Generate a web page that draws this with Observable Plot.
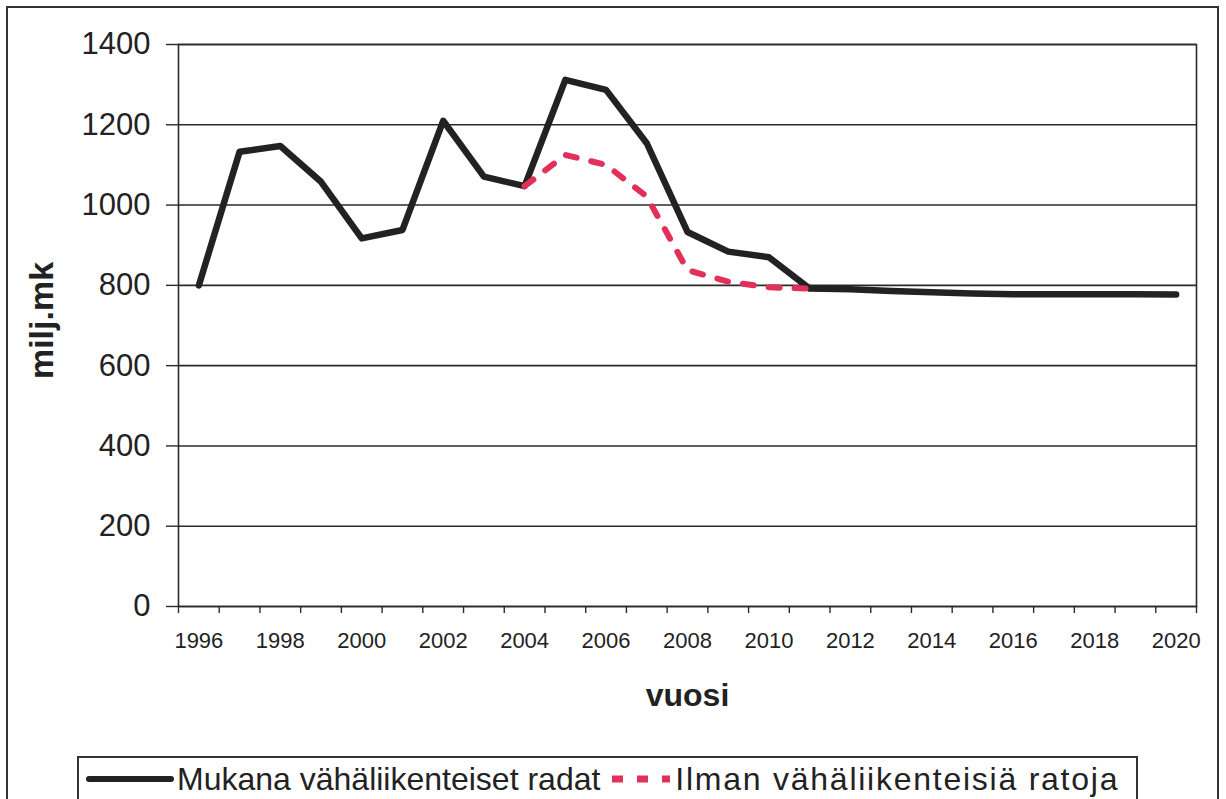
<!DOCTYPE html>
<html>
<head>
<meta charset="utf-8">
<script src="https://cdn.jsdelivr.net/npm/d3@7"></script>
<script src="https://cdn.jsdelivr.net/npm/@observablehq/plot@0.6"></script>
<style>
  html, body { margin: 0; padding: 0; background: #fff; }
  body { width: 1226px; height: 799px; overflow: hidden; position: relative; font-family: Arial, "Liberation Sans", sans-serif; color: #222; }
  #chart { position: absolute; left: 0; top: 0; }
  #frame { position: absolute; left: 6px; top: 6px; width: 1209px; height: 900px; border: 2px solid #333; pointer-events: none; }
  #legend { position: absolute; left: 77px; top: 756px; width: 1057px; height: 80px; border: 2px solid #333; background: #fff; }
  #legend .row { display: flex; align-items: center; height: 40px; margin-top: 1px; white-space: nowrap; font-size: 32px; }
  #legend .blk { width: 88px; height: 6px; background: #222; border-radius: 3px; margin-left: 7px; margin-right: 3px; }
  #legend .t1 { letter-spacing: 0px; }
  #legend .t2 { letter-spacing: 1.75px; }
  #legend svg { margin: 0 5px 0 12px; }
</style>
</head>
<body>
<div id="chart"></div>
<div id="legend"></div>
<div id="frame"></div>
<script>
// ---- data ----
const years = [1996, 1997, 1998, 1999, 2000, 2001, 2002, 2003, 2004, 2005, 2006, 2007, 2008,
               2009, 2010, 2011, 2012, 2013, 2014, 2015, 2016, 2017, 2018, 2019, 2020];
const mukana = [800, 1133, 1147, 1058, 917, 938, 1210, 1071, 1047, 1312, 1287, 1154, 933,
                884, 870, 792, 790, 786, 783, 780, 778, 778, 778, 778, 777];
const ilmanYears = [2004, 2005, 2006, 2007, 2008, 2009, 2010, 2011];
const ilman = [1047, 1125, 1100, 1021, 838, 809, 795, 792];
const yTicks = [0, 200, 400, 600, 800, 1000, 1200, 1400];
const xTickLabels = [1996, 1998, 2000, 2002, 2004, 2006, 2008, 2010, 2012, 2014, 2016, 2018, 2020];
const xTitle = "vuosi";
const yTitle = "milj.mk";
const seriesNames = ["Mukana vähäliikenteiset radat", "Ilman vähäliikenteisiä ratoja"];
const seriesColors = ["#222222", "#e3305a"];

// ---- derived tables ----
const dataA = years.map((y, i) => ({year: y, value: mukana[i]}));
const dataB = ilmanYears.map((y, i) => ({year: y, value: ilman[i]}));
const boundaries = years.map(y => y - 0.5).concat([years[years.length - 1] + 0.5]);

const chart = Plot.plot({
  width: 1226,
  height: 750,
  marginLeft: 178,
  marginRight: 30,
  marginTop: 44,
  marginBottom: 144,
  style: {fontFamily: "Arial, 'Liberation Sans', sans-serif", background: "transparent", color: "#222"},
  x: {type: "linear", domain: [years[0] - 0.5, years[years.length - 1] + 0.5]},
  y: {domain: [0, 1400]},
  marks: [
    Plot.gridY(yTicks, {stroke: "#2a2a2a", strokeOpacity: 1, strokeWidth: 1.6}),
    Plot.frame({stroke: "#2a2a2a", strokeWidth: 1.6}),
    Plot.axisY(yTicks, {tickSize: 12, tickPadding: 16, fontSize: 31, label: null, tickFormat: d => String(d), stroke: "#2a2a2a", strokeWidth: 1.4}),
    Plot.axisX(boundaries, {tickSize: 7, tickFormat: () => "", label: null, stroke: "#2a2a2a", strokeWidth: 1.4}),
    Plot.axisX(xTickLabels, {tickSize: 0, tickPadding: 26, fontSize: 22, label: null, tickFormat: d => String(d)}),
    Plot.lineY(dataA, {x: "year", y: "value", stroke: seriesColors[0], strokeWidth: 6.5, strokeLinejoin: "round", strokeLinecap: "round"}),
    Plot.lineY(dataB, {x: "year", y: "value", stroke: seriesColors[1], strokeWidth: 6, strokeDasharray: "11,15"}),
    Plot.text([xTitle], {text: d => d, frameAnchor: "bottom", dy: 99, lineAnchor: "bottom", fontSize: 32, fontWeight: "bold", fill: "#222"}),
    Plot.text([yTitle], {text: d => d, frameAnchor: "left", textAnchor: "middle", dx: -126, dy: -5, rotate: -90, lineAnchor: "bottom", fontSize: 34, fontWeight: "bold", fill: "#222"})
  ]
});
document.getElementById("chart").appendChild(chart);

// ---- legend ----
const legend = document.getElementById("legend");
const row = document.createElement("div");
row.className = "row";
row.innerHTML =
  `<span class="blk" style="background:${seriesColors[0]}"></span><span class="t1">${seriesNames[0]}</span>` +
  `<svg width="58" height="10"><line x1="0" y1="5" x2="58" y2="5" stroke="${seriesColors[1]}" stroke-width="7" stroke-dasharray="11,14"/></svg>` +
  `<span class="t2">${seriesNames[1]}</span>`;
legend.appendChild(row);
</script>
</body>
</html>
